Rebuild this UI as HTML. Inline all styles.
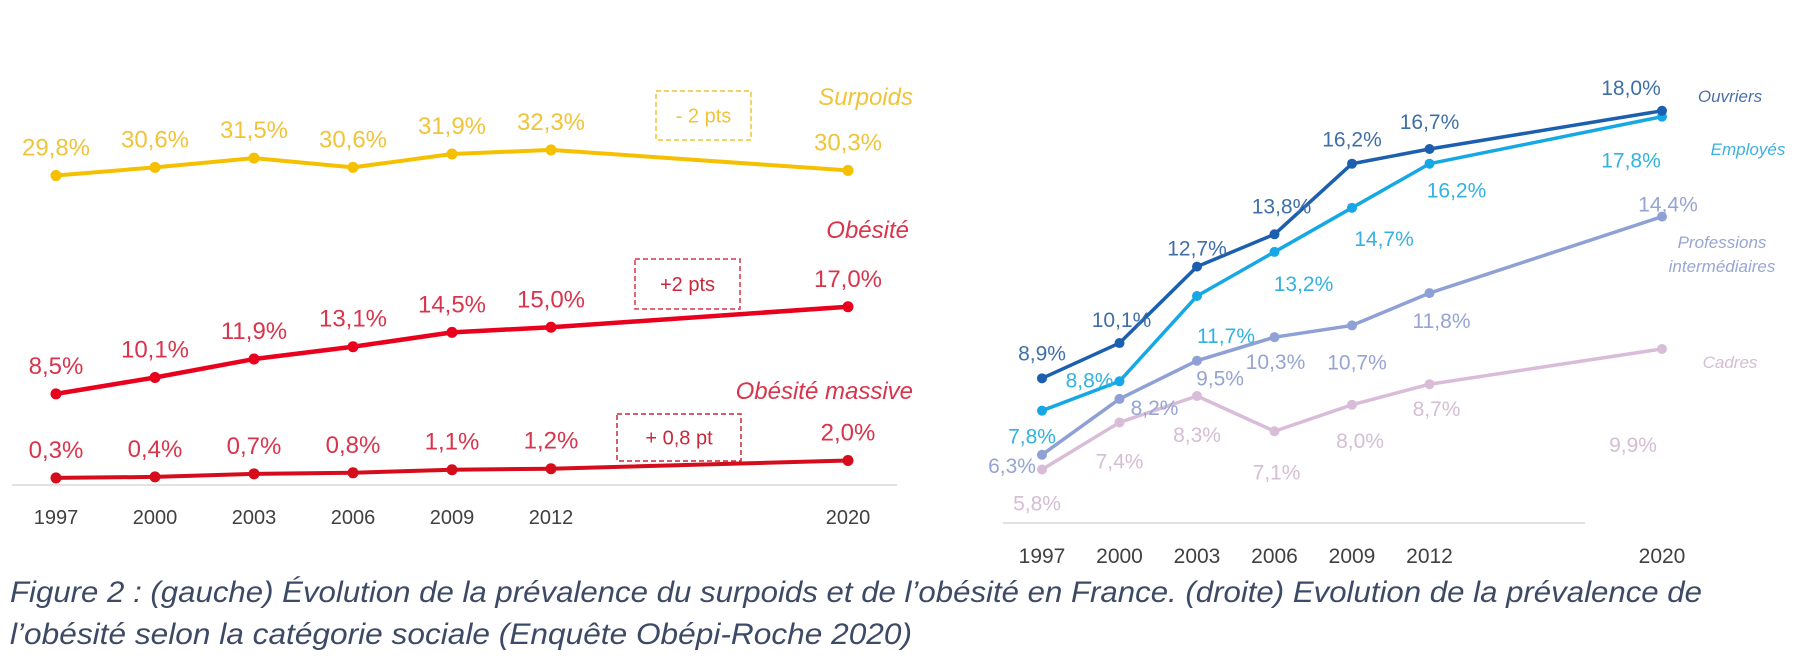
<!DOCTYPE html>
<html><head><meta charset="utf-8">
<style>
html,body{margin:0;padding:0;background:#fff;width:1817px;height:658px;overflow:hidden}
svg{display:block}
text{font-family:"Liberation Sans",sans-serif}
</style></head>
<body>
<svg id="fig" width="1817" height="658" viewBox="0 0 1817 658" xmlns="http://www.w3.org/2000/svg">
<g id="left"></g>
<g id="right"></g>
<text x="10" y="602" font-size="30" font-style="italic" fill="#3d4a66" textLength="1692" lengthAdjust="spacingAndGlyphs">Figure 2 : (gauche) Évolution de la prévalence du surpoids et de l’obésité en France. (droite) Evolution de la prévalence de</text>
<text x="10" y="644" font-size="30" font-style="italic" fill="#3d4a66" textLength="902" lengthAdjust="spacingAndGlyphs">l’obésité selon la catégorie sociale (Enquête Obépi-Roche 2020)</text>
</svg>
<script>
// ---------- data ----------
const years = ["1997","2000","2003","2006","2009","2012","2020"];
const yearIndex = [0,1,2,3,4,5,8];
const surpoids = [29.8,30.6,31.5,30.6,31.9,32.3,30.3];
const obesite = [8.5,10.1,11.9,13.1,14.5,15.0,17.0];
const obesiteMassive = [0.3,0.4,0.7,0.8,1.1,1.2,2.0];
const ouvriers = [8.9,10.1,12.7,13.8,16.2,16.7,18.0];
const employes = [7.8,8.8,11.7,13.2,14.7,16.2,17.8];
const professions = [6.3,8.2,9.5,10.3,10.7,11.8,14.4];
const cadres = [5.8,7.4,8.3,7.1,8.0,8.7,9.9];

const NS="http://www.w3.org/2000/svg";
function mk(parent,tag,attrs,txt){const e=document.createElementNS(NS,tag);for(const k in attrs)e.setAttribute(k,attrs[k]);if(txt!==undefined)e.textContent=txt;parent.appendChild(e);return e;}
function fmt(v){return v.toFixed(1).replace('.',',')+'%';}

// ---------- left chart ----------
const L=document.getElementById('left');
const lx=i=>56+yearIndex[i]*99;
const ly=v=>481-v*10.25;
let ax=mk(L,'line',{x1:12,x2:897,y1:485,y2:485,stroke:'#d9d9d9','stroke-width':1.5});


years.forEach((y,i)=>{
  const t=mk(L,'text',{x:lx(i),y:524,'font-size':20,fill:'#404040','text-anchor':'middle'},y);
  
  
});
const leftSeries=[
 {name:'surpoids',vals:surpoids,line:'#f5c000',txt:'#f0c43a',w:4},
 {name:'obesite',vals:obesite,line:'#e8001c',txt:'#d8344c',w:4.5},
 {name:'obesite-massive',vals:obesiteMassive,line:'#d40c1c',txt:'#d8344c',w:4}
];
leftSeries.forEach(s=>{
  const pts=s.vals.map((v,i)=>lx(i)+','+ly(v)).join(' ');
  const pl=mk(L,'polyline',{points:pts,fill:'none',stroke:s.line,'stroke-width':s.w,'stroke-linejoin':'round'});
  
  
  s.vals.forEach((v,i)=>{
    const c=mk(L,'circle',{cx:lx(i),cy:ly(v),r:5.5,fill:s.line});
    
    
    const t=mk(L,'text',{x:lx(i),y:ly(v)-20,'font-size':24,fill:s.txt,'text-anchor':'middle'},fmt(v));
    
    
  });
});
[['Surpoids',913,105,'#f0c43a','surpoids-series-name'],['Obésité',909,238,'#d8344c','obesite-series-name'],['Obésité massive',913,399,'#d8344c','obesite-massive-series-name']].forEach(a=>{
  const t=mk(L,'text',{x:a[1],y:a[2],'font-size':24,'font-style':'italic',fill:a[3],'text-anchor':'end'},a[0]);
  
  
});
[['- 2 pts',656,91,95,49,'#f0c43a','surpoids-change-box'],['+2 pts',635,259,105,50,'#d8344c','obesite-change-box'],['+ 0,8 pt',617,414,124,47,'#c8283a','obesite-massive-change-box']].forEach(a=>{
  const g=mk(L,'g',{});
  
  
  mk(g,'rect',{x:a[1],y:a[2],width:a[3],height:a[4],fill:'none',stroke:a[5],'stroke-width':1.5,'stroke-dasharray':'5,3'});
  mk(g,'text',{x:a[1]+a[3]/2,y:a[2]+a[4]/2+7,'font-size':20,fill:a[5]==='#f0c43a'?'#f0c43a':'#c8283a','text-anchor':'middle'},a[0]);
});

// ---------- right chart ----------
const R=document.getElementById('right');
const rx=i=>1042+yearIndex[i]*77.5;
const ry=v=>640-v*29.4;
let ax2=mk(R,'line',{x1:1003,x2:1585,y1:523,y2:523,stroke:'#d9d9d9','stroke-width':1.5});


years.forEach((y,i)=>{
  const t=mk(R,'text',{x:rx(i),y:563,'font-size':21,fill:'#404040','text-anchor':'middle'},y);
  
  
});
const rightSeries=[
 {name:'cadres',vals:cadres,line:'#d8bcd8',txt:'#d4bed4',
  dx:[-5,0,0,2,8,7,-29],dy:[33,38,38,40,35,24,95]},
 {name:'professions-intermediaires',vals:professions,line:'#8ea0d6',txt:'#96a4d4',
  dx:[-30,35,23,1,5,12,6],dy:[10,8,17,24,36,27,-13]},
 {name:'employes',vals:employes,line:'#16a8e4',txt:'#33b2e0',
  dx:[-10,-30,29,29,32,27,-31],dy:[25,-2,39,31,30,26,43]},
 {name:'ouvriers',vals:ouvriers,line:'#1b5fae',txt:'#3f6fa8',
  dx:[0,2,0,7,0,0,-31],dy:[-26,-24,-19,-29,-25,-28,-24]}
];
rightSeries.forEach(s=>{
  const pts=s.vals.map((v,i)=>rx(i)+','+ry(v)).join(' ');
  const pl=mk(R,'polyline',{points:pts,fill:'none',stroke:s.line,'stroke-width':3.5,'stroke-linejoin':'round'});
  
  
  s.vals.forEach((v,i)=>{
    const c=mk(R,'circle',{cx:rx(i),cy:ry(v),r:5,fill:s.line});
    
    
    const t=mk(R,'text',{x:rx(i)+s.dx[i],y:ry(v)+s.dy[i]+8,'font-size':21,fill:s.txt,'text-anchor':'middle'},fmt(v));
    
    
  });
});
[['Ouvriers',1730,102,'#4a70a8','ouvriers-series-name'],['Employés',1748,155,'#3cb0dc','employes-series-name'],['Professions',1722,248,'#9aa6d2','professions-series-name-1'],['intermédiaires',1722,272,'#9aa6d2','professions-series-name-2'],['Cadres',1730,368,'#d4bed4','cadres-series-name']].forEach(a=>{
  const t=mk(R,'text',{x:a[1],y:a[2],'font-size':17,'font-style':'italic',fill:a[3],'text-anchor':'middle'},a[0]);
  
  
});
</script>
</body></html>
